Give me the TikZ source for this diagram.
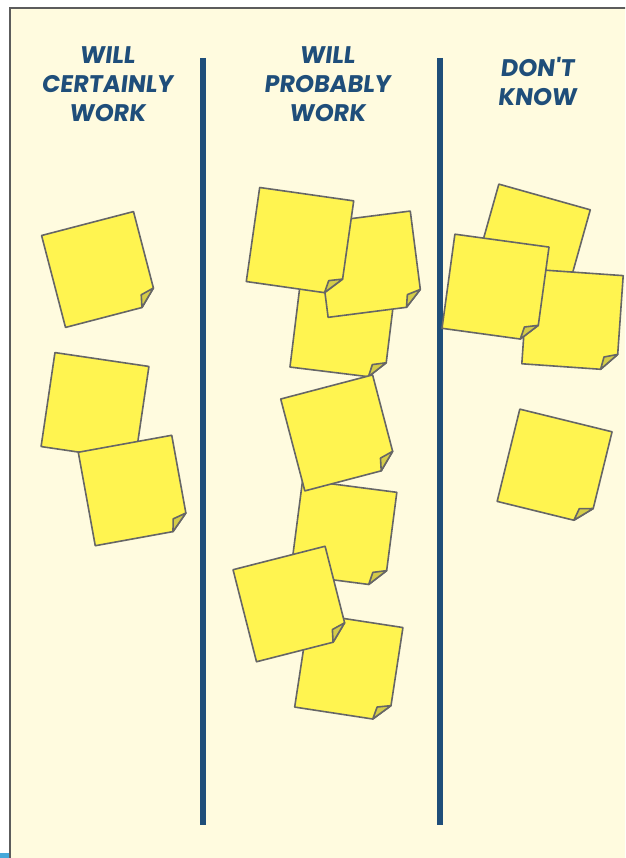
\documentclass[tikz,border=0pt]{standalone}
\usepackage{fontspec}
\usepackage{tikz}
\usetikzlibrary{positioning}
\newfontfamily\headfont{Poppins}[FakeSlant=0.12]
\newcommand{\colhead}{\headfont\bfseries\fontsize{24}{29}\selectfont}
\definecolor{board}{HTML}{FFFBDF}
\definecolor{boardedge}{HTML}{5C5C5C}
\definecolor{navy}{HTML}{1F4E7A}
\definecolor{noteyellow}{HTML}{FFF450}
\definecolor{notefold}{HTML}{D4CC48}
\definecolor{noteedge}{HTML}{666666}
\definecolor{cornerblue}{HTML}{45A8DA}
\tikzset{
  boardbox/.style ={fill=board, draw=boardedge, line width=1.5pt},
  divider/.style  ={draw=navy, line width=6.5pt},
  head/.style     ={font=\colhead, text=navy, align=center, inner sep=0pt},
  notebody/.style ={fill=noteyellow, draw=noteedge, line width=1.6pt, line join=round},
  noteflap/.style ={fill=notefold, draw=noteedge, line width=1.6pt, line join=round},
  sticky/.pic={
    \path[notebody] (-47.5,-47.5) -- (47.5,-47.5) -- (47.5,31.5)
      -- (31.5,47.5) -- (-47.5,47.5) -- cycle;
    \path[noteflap] (47.5,31.5) -- (34,35) -- (31.5,47.5) -- cycle;
  },
}
\begin{document}
\begin{tikzpicture}[x=1pt, y=-1pt]
\clip (0,0) rectangle (625,858);
\draw[boardbox] (10,8) rectangle (650,880);
\fill[cornerblue] (0,853) rectangle (9,858);

% column titles
\node[head] (hcert) at (107,84) {WILL\\CERTAINLY\\WORK};
\node[head] (hprob) at (327,84) {WILL\\PROBABLY\\WORK};
\node[head] (hdont) at (537,81) {DON'T\\KNOW};

\draw[divider] (203,58) -- (203,825);
\draw[divider] (440,58) -- (440,825);

% will certainly work
\pic[rotate=14.6]  at (99.5,269.5)  {sticky};
\pic[rotate=-8.4]  at (95,406.5)    {sticky};
\pic[rotate=10.3]  at (133.5,490.5) {sticky};

% will probably work
\pic[rotate=-7]    at (342.9,325.7) {sticky};
\pic[rotate=7.3]   at (369.2,264.2) {sticky};
\pic[rotate=-8.1]  at (300,241.2)   {sticky};
\pic[rotate=-7.4]  at (343.6,533.3) {sticky};
\pic[rotate=14.7]  at (338.7,432.9) {sticky};
\pic[rotate=-8.7]  at (348.8,667.3) {sticky};
\pic[rotate=14.3]  at (290.8,604)   {sticky};

% don't know
\pic[rotate=-15.7] at (531.7,242.7) {sticky};
\pic[rotate=-4]    at (572.5,319.7) {sticky};
\pic[rotate=-7.8]  at (495.5,287.7) {sticky};
\pic[rotate=-13.8] at (554.6,466.6) {sticky};
\end{tikzpicture}
\end{document}
